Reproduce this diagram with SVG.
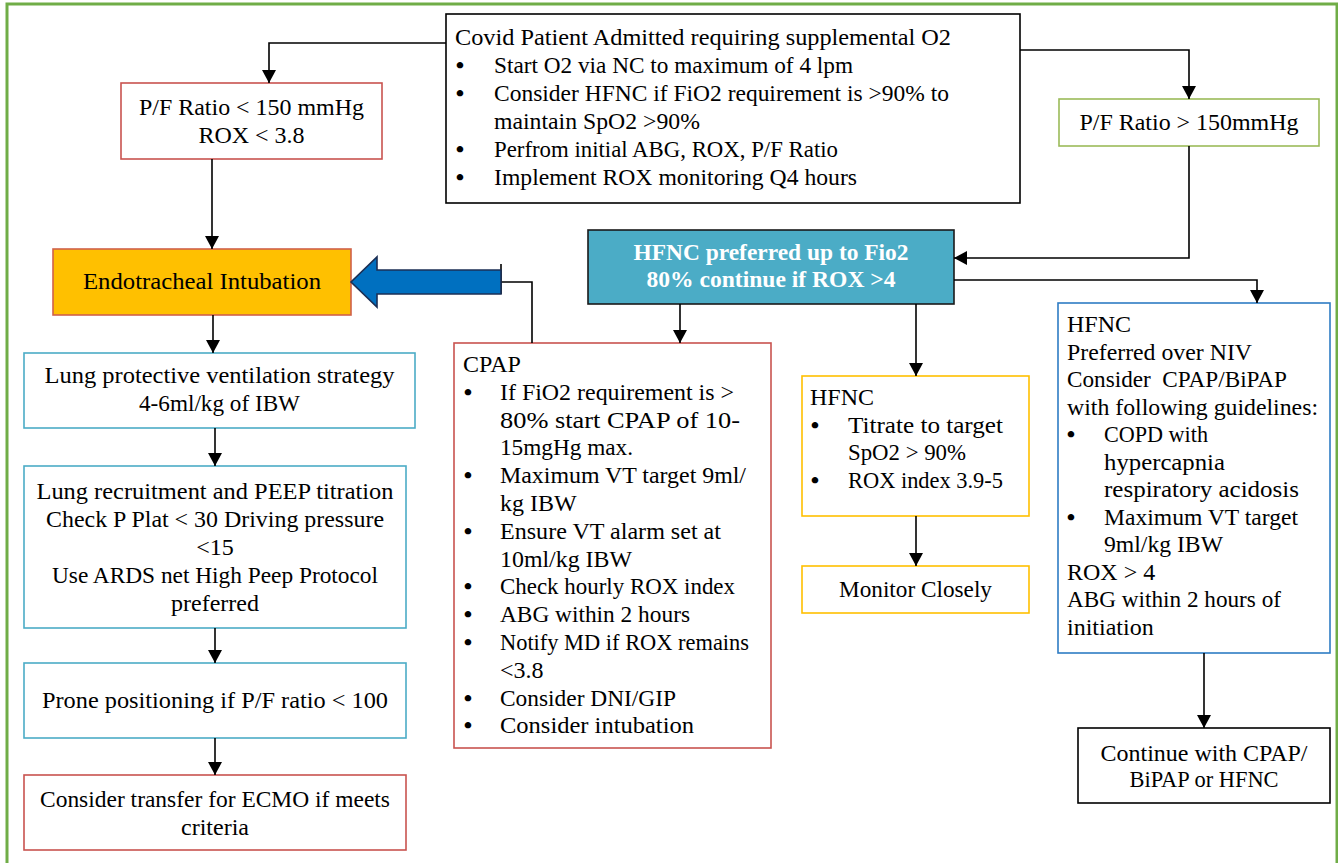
<svg xmlns="http://www.w3.org/2000/svg" width="1338" height="863" viewBox="0 0 1338 863">
<style>
  text { font-family: "Liberation Serif", "Times New Roman", serif; font-size: 24px; fill: #000; }
  .c { text-anchor: middle; }
  .b { text-anchor: middle; font-weight: bold; }
  .w { fill: #fff; font-weight: bold; }
  .box { fill: #fff; stroke-width: 1.6; }
  .red { stroke: #C9534F; }
  .grn { stroke: #9BBB59; }
  .cyan { stroke: #4BACC6; }
  .yel { stroke: #FFC000; }
  .blu { stroke: #2E7CC4; }
  .blk { stroke: #000; }
  .conn path { fill: none; stroke: #000; stroke-width: 1.6; }
</style>
<defs>
  <marker id="ah" viewBox="0 0 13 14" refX="13" refY="7" markerWidth="13" markerHeight="14" markerUnits="userSpaceOnUse" orient="auto">
    <path d="M0,0 L13,7 L0,14 z" fill="#000"/>
  </marker>
</defs>
<rect x="7" y="4" width="1330" height="880" fill="none" stroke="#70AD47" stroke-width="3"/>

<g id="top">
  <rect class="box blk" x="446" y="14" width="574" height="189"/>
  <text x="455" y="45" textLength="496" lengthAdjust="spacingAndGlyphs">Covid Patient Admitted requiring supplemental O2</text>
  <text class="b" x="460" y="73">•</text>
  <text x="494" y="73" textLength="359" lengthAdjust="spacingAndGlyphs">Start O2 via NC to maximum of 4 lpm</text>
  <text class="b" x="460" y="101">•</text>
  <text x="494" y="101" textLength="455" lengthAdjust="spacingAndGlyphs">Consider HFNC if FiO2 requirement is &gt;90% to</text>
  <text x="494" y="129" textLength="206" lengthAdjust="spacingAndGlyphs">maintain SpO2 &gt;90%</text>
  <text class="b" x="460" y="157">•</text>
  <text x="494" y="157" textLength="344" lengthAdjust="spacingAndGlyphs">Perfrom initial ABG, ROX, P/F Ratio</text>
  <text class="b" x="460" y="185">•</text>
  <text x="494" y="185" textLength="363" lengthAdjust="spacingAndGlyphs">Implement ROX monitoring Q4 hours</text>
</g>

<g id="pf-low">
  <rect class="box red" x="121" y="83" width="261" height="76"/>
  <text class="c" x="251.5" y="115" textLength="225" lengthAdjust="spacingAndGlyphs">P/F Ratio &lt; 150 mmHg</text>
  <text class="c" x="251.5" y="143">ROX &lt; 3.8</text>
</g>

<g id="pf-high">
  <rect class="box grn" x="1059" y="99" width="260" height="47"/>
  <text class="c" x="1189" y="130" textLength="219" lengthAdjust="spacingAndGlyphs">P/F Ratio &gt; 150mmHg</text>
</g>

<g id="intubation">
  <rect x="53" y="249" width="298" height="66" fill="#FFC000" stroke="#D0614A" stroke-width="1.6"/>
  <text class="c" x="202" y="289" textLength="238" lengthAdjust="spacingAndGlyphs">Endotracheal Intubation</text>
</g>

<g id="lung-protective">
  <rect class="box cyan" x="24" y="353" width="391" height="75"/>
  <text class="c" x="219.5" y="383" textLength="350" lengthAdjust="spacingAndGlyphs">Lung protective ventilation strategy</text>
  <text class="c" x="219.5" y="411" textLength="161" lengthAdjust="spacingAndGlyphs">4-6ml/kg of IBW</text>
</g>

<g id="recruitment">
  <rect class="box cyan" x="24" y="466" width="382" height="162"/>
  <text class="c" x="215" y="499" textLength="357" lengthAdjust="spacingAndGlyphs">Lung recruitment and PEEP titration</text>
  <text class="c" x="215" y="527" textLength="338" lengthAdjust="spacingAndGlyphs">Check P Plat &lt; 30 Driving pressure</text>
  <text class="c" x="215" y="555">&lt;15</text>
  <text class="c" x="215" y="583" textLength="326" lengthAdjust="spacingAndGlyphs">Use ARDS net High Peep Protocol</text>
  <text class="c" x="215" y="611">preferred</text>
</g>

<g id="prone">
  <rect class="box cyan" x="24" y="663" width="382" height="75"/>
  <text class="c" x="215" y="708" textLength="346" lengthAdjust="spacingAndGlyphs">Prone positioning if P/F ratio &lt; 100</text>
</g>

<g id="ecmo">
  <rect class="box red" x="24" y="775" width="382" height="75"/>
  <text class="c" x="215" y="807" textLength="350" lengthAdjust="spacingAndGlyphs">Consider transfer for ECMO if meets</text>
  <text class="c" x="215" y="835">criteria</text>
</g>

<g id="hfnc-preferred">
  <rect x="588" y="230" width="366" height="74" fill="#4BACC6" stroke="#1a1a1a" stroke-width="1.6"/>
  <text class="c w" x="771" y="260" textLength="275" lengthAdjust="spacingAndGlyphs">HFNC preferred up to Fio2</text>
  <text class="c w" x="771" y="287" textLength="249" lengthAdjust="spacingAndGlyphs">80% continue if ROX &gt;4</text>
</g>

<g id="cpap">
  <rect class="box red" x="454" y="343" width="317" height="405"/>
  <text x="463" y="372">CPAP</text>
  <text class="b" x="468" y="399.8">•</text>
  <text x="500" y="399.8" textLength="234" lengthAdjust="spacingAndGlyphs">If FiO2 requirement is &gt;</text>
  <text x="500" y="427.6" textLength="240" lengthAdjust="spacingAndGlyphs">80% start CPAP of 10-</text>
  <text x="500" y="455.4" textLength="133" lengthAdjust="spacingAndGlyphs">15mgHg max.</text>
  <text class="b" x="468" y="483.2">•</text>
  <text x="500" y="483.2" textLength="246" lengthAdjust="spacingAndGlyphs">Maximum VT target 9ml/</text>
  <text x="500" y="511">kg IBW</text>
  <text class="b" x="468" y="538.8">•</text>
  <text x="500" y="538.8" textLength="221" lengthAdjust="spacingAndGlyphs">Ensure VT alarm set at</text>
  <text x="500" y="566.6" textLength="132" lengthAdjust="spacingAndGlyphs">10ml/kg IBW</text>
  <text class="b" x="468" y="594.4">•</text>
  <text x="500" y="594.4" textLength="235" lengthAdjust="spacingAndGlyphs">Check hourly ROX index</text>
  <text class="b" x="468" y="622.2">•</text>
  <text x="500" y="622.2" textLength="190" lengthAdjust="spacingAndGlyphs">ABG within 2 hours</text>
  <text class="b" x="468" y="650">•</text>
  <text x="500" y="650" textLength="249" lengthAdjust="spacingAndGlyphs">Notify MD if ROX remains</text>
  <text x="500" y="677.8">&lt;3.8</text>
  <text class="b" x="468" y="705.6">•</text>
  <text x="500" y="705.6" textLength="176" lengthAdjust="spacingAndGlyphs">Consider DNI/GIP</text>
  <text class="b" x="468" y="733.4">•</text>
  <text x="500" y="733.4" textLength="194" lengthAdjust="spacingAndGlyphs">Consider intubation</text>
</g>

<g id="hfnc-titrate">
  <rect class="box yel" x="802" y="376" width="227" height="140"/>
  <text x="810" y="405">HFNC</text>
  <text class="b" x="815" y="433">•</text>
  <text x="848" y="433" textLength="155" lengthAdjust="spacingAndGlyphs">Titrate to target</text>
  <text x="848" y="460" textLength="118" lengthAdjust="spacingAndGlyphs">SpO2 &gt; 90%</text>
  <text class="b" x="815" y="488">•</text>
  <text x="848" y="488" textLength="155" lengthAdjust="spacingAndGlyphs">ROX index 3.9-5</text>
</g>

<g id="monitor">
  <rect class="box yel" x="802" y="566" width="227" height="47"/>
  <text class="c" x="915.5" y="597" textLength="153" lengthAdjust="spacingAndGlyphs">Monitor Closely</text>
</g>

<g id="hfnc-niv">
  <rect class="box blu" x="1058" y="303" width="272" height="350"/>
  <text x="1067" y="332">HFNC</text>
  <text x="1067" y="359.5" textLength="185" lengthAdjust="spacingAndGlyphs">Preferred over NIV</text>
  <text x="1067" y="387" textLength="220" lengthAdjust="spacingAndGlyphs" xml:space="preserve">Consider  CPAP/BiPAP</text>
  <text x="1067" y="414.5" textLength="251" lengthAdjust="spacingAndGlyphs">with following guidelines:</text>
  <text class="b" x="1071" y="442">•</text>
  <text x="1104" y="442" textLength="104" lengthAdjust="spacingAndGlyphs">COPD with</text>
  <text x="1104" y="469.5" textLength="121" lengthAdjust="spacingAndGlyphs">hypercapnia</text>
  <text x="1104" y="497" textLength="195" lengthAdjust="spacingAndGlyphs">respiratory acidosis</text>
  <text class="b" x="1071" y="524.5">•</text>
  <text x="1104" y="524.5" textLength="194" lengthAdjust="spacingAndGlyphs">Maximum VT target</text>
  <text x="1104" y="552" textLength="119" lengthAdjust="spacingAndGlyphs">9ml/kg IBW</text>
  <text x="1067" y="579.5">ROX &gt; 4</text>
  <text x="1067" y="607" textLength="214" lengthAdjust="spacingAndGlyphs">ABG within 2 hours of</text>
  <text x="1067" y="634.5">initiation</text>
</g>

<g id="continue">
  <rect class="box blk" x="1078" y="728" width="252" height="75"/>
  <text class="c" x="1204" y="761" textLength="207" lengthAdjust="spacingAndGlyphs">Continue with CPAP/</text>
  <text class="c" x="1204" y="787" textLength="149" lengthAdjust="spacingAndGlyphs">BiPAP or HFNC</text>
</g>

<g id="connectors" class="conn">
  <path d="M446,43 H269 V83" marker-end="url(#ah)"/>
  <path d="M1020,50 H1189 V99" marker-end="url(#ah)"/>
  <path d="M1189,146 V258 H954" marker-end="url(#ah)"/>
  <path d="M954,280 H1257 V303" marker-end="url(#ah)"/>
  <path d="M680,304 V343" marker-end="url(#ah)"/>
  <path d="M916,304 V376" marker-end="url(#ah)"/>
  <path d="M212,159 V249" marker-end="url(#ah)"/>
  <path d="M213,315 V353" marker-end="url(#ah)"/>
  <path d="M215,428 V466" marker-end="url(#ah)"/>
  <path d="M215,628 V663" marker-end="url(#ah)"/>
  <path d="M215,738 V775" marker-end="url(#ah)"/>
  <path d="M916,516 V566" marker-end="url(#ah)"/>
  <path d="M1204,653 V728" marker-end="url(#ah)"/>
  <path d="M532,343 V282 H501"/>
  <path d="M501,264 V294"/>
  <polygon points="501,270 377,270 377,257 351,282 377,307 377,294 501,294" fill="#0070C0" stroke="#1b2f55" stroke-width="1.6"/>
</g>
</svg>
